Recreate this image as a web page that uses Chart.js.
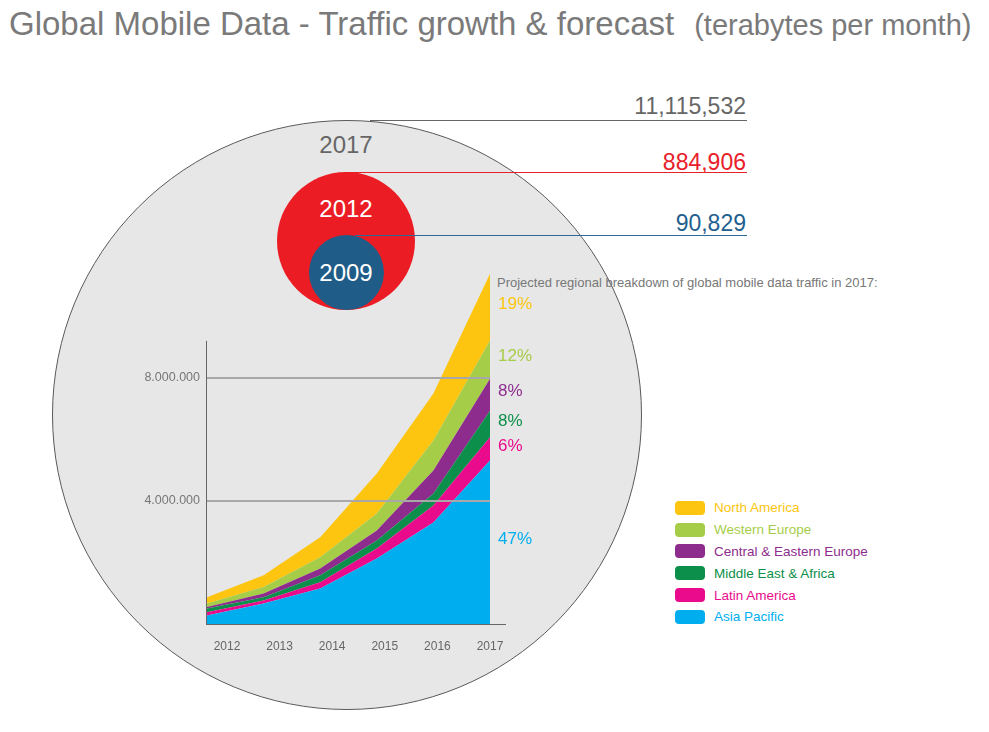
<!DOCTYPE html>
<html>
<head>
<meta charset="utf-8">
<script src="https://cdn.jsdelivr.net/npm/chart.js@4"></script>
<style>
  body { margin: 0; background: #fff; font-family: "Liberation Sans", Arial, Helvetica, sans-serif; }
  #page { position: relative; width: 989px; height: 732px; overflow: hidden; }
  .abs { position: absolute; }
  #title { left: 9px; top: 5px; font-size: 33px; color: #7a7a7a; white-space: nowrap; }
  #title small { font-size: 29px; margin-left: 20px; }
  .circle { position: absolute; border-radius: 50%; }
  .ring-label { position: absolute; width: 120px; margin-left: -60px; text-align: center; font-size: 24px; line-height: 24px; }
  .total { position: absolute; right: 243px; font-size: 23px; line-height: 24px; text-align: right; }
  .rule { position: absolute; height: 1px; }
  #note { left: 497px; top: 275px; font-size: 13px; color: #777; white-space: nowrap; }
  #legend { left: 675px; top: 497px; }
  .leg { height: 21.8px; display: flex; align-items: center; font-size: 13.5px; white-space: nowrap; }
  .leg span.sw { width: 30px; height: 14px; border-radius: 4px; margin-right: 9px; display: inline-block; }
  #wrap { position: absolute; left: 120px; top: 250px; width: 420px; height: 412px; }
</style>
</head>
<body>
<div id="page">
  <div id="title" class="abs">Global Mobile Data - Traffic growth &amp; forecast<small>(terabytes per month)</small></div>

  <div class="circle" style="left:52px; top:120px; width:590px; height:590px; background:#e7e7e7; border:1px solid #5a5a5a; box-sizing:border-box;"></div>
  <div class="rule" style="left:370px; width:377px; top:120px; background:#666;"></div>
  <div class="rule" style="left:346px; width:401px; top:172px; background:#e8202a;"></div>
  <div class="circle" style="left:277px; top:172px; width:138px; height:138px; background:#ec1c24;"></div>
  <div class="circle" style="left:309px; top:235px; width:75px; height:75px; background:#1f5d88;"></div>
  <div class="rule" style="left:355px; width:392px; top:235px; background:#2a6a96;"></div>

  <div id="rings"></div>
  <div id="note" class="abs">Projected regional breakdown of global mobile data traffic in 2017:</div>
  <div id="legend" class="abs"></div>

  <div id="wrap"><canvas id="myChart" width="420" height="412"></canvas></div>
</div>

<script>
// data
const years = [2012, 2013, 2014, 2015, 2016, 2017];
const regions = ['Asia Pacific', 'Latin America', 'Middle East & Africa', 'Central & Eastern Europe', 'Western Europe', 'North America'];
const asiaPacific = [280000, 670000, 1150000, 2130000, 3300000, 5310000];
const latinAmerica = [100000, 90000, 210000, 320000, 550000, 760000];
const middleEastAfrica = [120000, 110000, 220000, 260000, 390000, 860000];
const centralEasternEurope = [50000, 120000, 220000, 330000, 750000, 1040000];
const westernEurope = [120000, 210000, 370000, 550000, 970000, 1240000];
const northAmerica = [200000, 380000, 650000, 1300000, 1530000, 2170000];
const shares2017 = [47, 6, 8, 8, 12, 19];
const colors = ['#00aeef', '#ea0b8c', '#0c8f4a', '#8e2c8e', '#a6cd48', '#fdc50f'];
const yTicks = [4000000, 8000000];
const yAxisTop = 9200000;

const totalYears = ['2017', '2012', '2009'];
const totals = [11115532, 884906, 90829];
const totalColors = ['#666', '#e8202a', '#1f5f8e'];
const ringColors = ['#666', '#fff', '#fff'];

// rings & totals text
const ringY = [133, 197, 261];
const totalY = [94, 150, 211];
let html = '';
totalYears.forEach((y, i) => {
  html += '<div class="ring-label" style="left:346px; top:' + ringY[i] + 'px; color:' + ringColors[i] + '">' + y + '</div>';
  html += '<div class="total" style="top:' + totalY[i] + 'px; color:' + totalColors[i] + '">' + totals[i].toLocaleString('en-US') + '</div>';
});
document.getElementById('rings').innerHTML = html;

// legend (top to bottom = reverse stacking order)
let leg = '';
for (let i = regions.length - 1; i >= 0; i--) {
  leg += '<div class="leg" style="color:' + colors[i] + '"><span class="sw" style="background:' + colors[i] + '"></span>' + regions[i] + '</div>';
}
document.getElementById('legend').innerHTML = leg;

const series = [asiaPacific, latinAmerica, middleEastAfrica, centralEasternEurope, westernEurope, northAmerica];

const data = {
  datasets: series.map((vals, i) => ({
    label: regions[i],
    data: vals.map((v, j) => ({ x: years[j], y: v })),
    backgroundColor: colors[i],
    borderWidth: 0,
    pointRadius: 0,
    fill: i === 0 ? 'origin' : '-1',
    tension: 0
  }))
};

// axis lines: short y axis, x axis running past the last year
const axisLines = {
  id: 'axisLines',
  afterDatasetsDraw(chart) {
    const { ctx, chartArea } = chart;
    const y = chart.scales.y;
    ctx.save();
    ctx.strokeStyle = '#666';
    ctx.lineWidth = 1;
    ctx.beginPath();
    ctx.moveTo(chartArea.left - 0.5, y.getPixelForValue(yAxisTop));
    ctx.lineTo(chartArea.left - 0.5, chartArea.bottom + 1);
    ctx.moveTo(chartArea.left, chartArea.bottom + 0.5);
    ctx.lineTo(chartArea.right + 16, chartArea.bottom + 0.5);
    ctx.stroke();
    ctx.restore();
  }
};

// percentage labels at the 2017 end of each band
const shareLabels = {
  id: 'shareLabels',
  afterDatasetsDraw(chart) {
    const ctx = chart.ctx;
    const last = years.length - 1;
    ctx.save();
    ctx.font = '17px "Liberation Sans", Arial, sans-serif';
    ctx.textBaseline = 'middle';
    chart.data.datasets.forEach((ds, i) => {
      const top = chart.getDatasetMeta(i).data[last];
      const bottom = i === 0 ? chart.scales.y.getPixelForValue(0) : chart.getDatasetMeta(i - 1).data[last].y;
      ctx.fillStyle = colors[i];
      ctx.fillText(shares2017[i] + '%', top.x + 8, (top.y + bottom) / 2 - 3);
    });
    ctx.restore();
  }
};

// config
const config = {
  type: 'line',
  data,
  options: {
    responsive: false,
    animation: false,
    layout: { padding: { top: 17, right: 50, left: 0, bottom: 0 } },
    plugins: { legend: { display: false }, tooltip: { enabled: false } },
    scales: {
      x: {
        type: 'linear',
        min: 2012,
        max: 2017,
        ticks: { display: false },
        grid: { display: false },
        border: { display: false },
        afterFit(scale) { scale.height = 0; }
      },
      x2: {
        type: 'linear',
        position: 'bottom',
        min: 2011.62,
        max: 2017,
        grid: { display: false },
        border: { display: false },
        ticks: {
          stepSize: 1,
          includeBounds: false,
          color: '#666',
          font: { size: 12, family: '"Liberation Sans", Arial, sans-serif' },
          padding: 7,
          callback: v => String(v)
        },
        afterBuildTicks(scale) { scale.ticks = years.map(v => ({ value: v })); },
        afterFit(scale) { scale.height = 38; }
      },
      y: {
        stacked: true,
        min: 0,
        max: 11600000,
        grid: {
          color: ctx => ctx.tick && ctx.tick.value === 0 ? 'rgba(0,0,0,0)' : '#a8a8a8',
          lineWidth: 2,
          drawTicks: false,
          z: 1
        },
        border: { display: false },
        ticks: {
          color: '#777',
          padding: 7,
          font: { size: 12.5, family: '"Liberation Sans", Arial, sans-serif' },
          callback: v => v === 0 ? '' : v.toLocaleString('de-DE')
        },
        afterBuildTicks(scale) { scale.ticks = [0].concat(yTicks).map(v => ({ value: v })); },
        afterFit(scale) { scale.width = 87; }
      }
    }
  },
  plugins: [axisLines, shareLabels]
};

// render init block
const myChart = new Chart(document.getElementById('myChart'), config);
</script>
</body>
</html>
